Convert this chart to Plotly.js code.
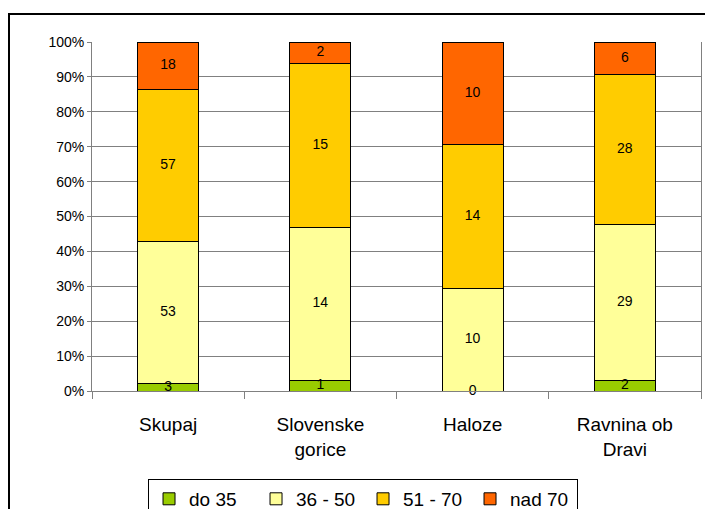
<!DOCTYPE html>
<html><head><meta charset="utf-8">
<script src="https://cdn.plot.ly/plotly-3.0.1.min.js"></script>
<style>
html,body{margin:0;padding:0;background:#fff;}
#frame{position:absolute;left:8px;top:13px;width:720px;height:520px;border-left:2px solid #000;border-top:2px solid #000;box-sizing:border-box;}
#chart{position:absolute;left:0;top:0;width:705px;height:509px;}
</style></head>
<body>
<div id="frame"></div>
<div id="chart"></div>
<script>
const categories = ['Skupaj', 'Slovenske<br>gorice', 'Haloze', 'Ravnina ob<br>Dravi'];
const seriesNames = ['do 35', '36 - 50', '51 - 70', 'nad 70'];
const do35 = [3, 1, 0, 2];
const s36_50 = [53, 14, 10, 29];
const s51_70 = [57, 15, 14, 28];
const nad70 = [18, 2, 10, 6];
const colors = ['#99CC00', '#FFFF99', '#FFCC00', '#FF6600'];
const series = [do35, s36_50, s51_70, nad70];
const totals = categories.map((c, i) => series.reduce((s, arr) => s + arr[i], 0));
const traces = [];
const base = categories.map(() => 0);
const labX = [], labY = [], labT = [];
series.forEach((arr, k) => {
  const pct = arr.map((v, i) => v / totals[i] * 100);
  traces.push({
    type: 'bar', x: categories, y: pct, name: seriesNames[k],
    marker: {color: colors[k], line: {color: '#000', width: 1}},
    hoverinfo: 'skip'
  });
  pct.forEach((p, i) => {
    labX.push(categories[i]); labY.push(base[i] + p / 2); labT.push(String(arr[i]));
    base[i] += p;
  });
});
traces.push({
  type: 'scatter', mode: 'text', x: labX, y: labY, text: labT,
  textfont: {family: 'Liberation Sans, Arial, sans-serif', size: 14, color: '#000'},
  showlegend: false, hoverinfo: 'skip', cliponaxis: false
});
const layout = {
  width: 705, height: 509,
  margin: {l: 92, r: 4, t: 42, b: 118, autoexpand: false},
  paper_bgcolor: 'rgba(0,0,0,0)', plot_bgcolor: 'rgba(0,0,0,0)',
  barmode: 'stack', bargap: 0.6,
  font: {family: 'Liberation Sans, Arial, sans-serif', color: '#000'},
  showlegend: true,
  legend: {
    orientation: 'h', x: 0.092, xanchor: 'left', y: -0.252, yanchor: 'top',
    bordercolor: '#000', borderwidth: 1, bgcolor: '#fff',
    font: {size: 19}, entrywidth: 62, traceorder: 'normal', itemwidth: 30
  },
  xaxis: {
    type: 'category', tickson: 'boundaries', ticks: 'outside', ticklen: 7,
    tickcolor: '#808080', showline: true, linecolor: '#808080', linewidth: 1,
    showgrid: false, tickfont: {size: 19}, ticklabelstandoff: 16
  },
  yaxis: {
    range: [0, 100], dtick: 10, ticksuffix: '%', ticks: 'outside', ticklen: 4,
    tickcolor: '#808080', showline: true, linecolor: '#808080', mirror: true,
    gridcolor: '#808080', gridwidth: 1, tickfont: {size: 14}, zeroline: false,
    fixedrange: true
  }
};
Plotly.newPlot('chart', traces, layout, {displayModeBar: false, staticPlot: true});
</script>
</body></html>
